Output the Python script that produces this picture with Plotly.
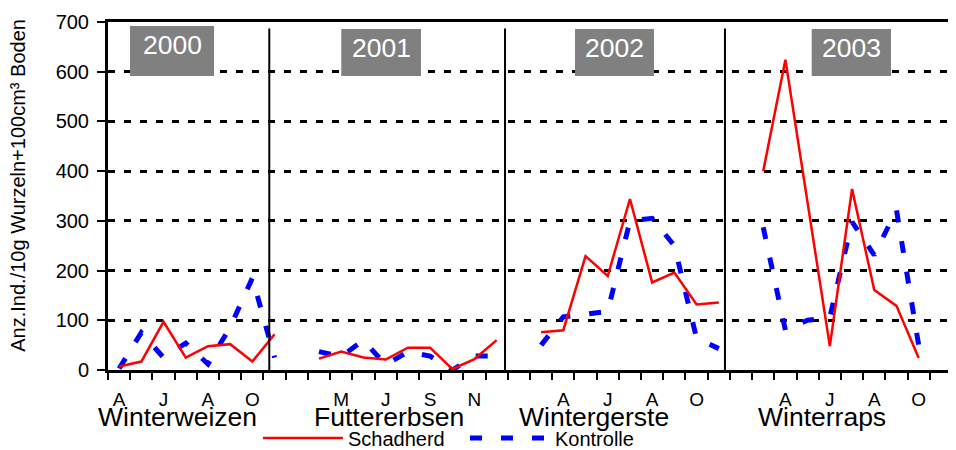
import plotly.graph_objects as go

FONT = "Liberation Sans, Arial, sans-serif"

# ---------------- data ----------------
years = ["2000", "2001", "2002", "2003"]
crops = ["Winterweizen", "Futtererbsen", "Wintergerste", "Winterraps"]
periods_per_year = [8, 10, 10, 10]

# month letter shown under each period (blank = no label)
tick_text = ["A", "", "J", "", "A", "", "O", "",
             "", "", "M", "", "J", "", "S", "", "N", "",
             "", "", "A", "", "J", "", "A", "", "O", "",
             "", "", "A", "", "J", "", "A", "", "O", ""]

schadherd = [7, 17, 97, 25, 48, 52, 17, 72,
             None, 23, 37, 25, 21, 45, 45, 2, 22, 60,
             None, 76, 80, 229, 189, 344, 176, 196, 132, 136,
             None, 400, 624, None, 48, 364, 161, 129, 24, None]

kontrolle = [3, 75, 25, 54, 12, 86, 185, 25,
             None, 37, 27, 60, 10, 37, 28, 0, 28, 28,
             None, 50, 107, 112, 118, 300, 305, 250, 64, 43,
             None, 287, 80, 100, 106, 298, 231, 322, 50, None]

y_title = "Anz.Ind./10g Wurzeln+100cm³ Boden"

# ---------------- figure ----------------
fig = go.Figure()

idx = list(range(len(tick_text)))
starts = [sum(periods_per_year[:i]) for i in range(len(years))]

series = [("Kontrolle", kontrolle, dict(color="#0000FF", width=5, dash="12px,19px"), 2),
          ("Schadherd", schadherd, dict(color="#FF0000", width=2.5), 1)]
for name, vals, line, rank in series:
    for k, yr in enumerate(years):
        s, n = starts[k], periods_per_year[k]
        fig.add_trace(go.Scatter(
            x=idx[s:s + n], y=vals[s:s + n], mode="lines", name=name,
            line=line, connectgaps=True, legendgroup=name, legendrank=rank,
            showlegend=(k == 0), hoverinfo="skip"))

# the page body has an 8px margin, so the figure is 8px smaller on each side
fig.update_layout(
    width=948, height=442,
    margin=dict(l=100, r=4, t=14, b=80, autoexpand=False),
    plot_bgcolor="white", paper_bgcolor="white",
    font=dict(family=FONT, color="black", size=19),
    showlegend=True,
    legend=dict(orientation="h", x=0.1777, xanchor="left",
                yref="container", y=0.027, yanchor="middle",
                font=dict(size=20, family=FONT), itemwidth=80,
                entrywidth=112, entrywidthmode="pixels",
                bgcolor="rgba(0,0,0,0)", tracegroupgap=0),
)

fig.update_xaxes(
    range=[-0.5, len(tick_text) - 0.5],
    tickmode="array",
    tickvals=[i for i, t in enumerate(tick_text) if t],
    ticktext=[t for t in tick_text if t],
    ticks="", tickfont=dict(size=19), ticklabelstandoff=10,
    showline=True, linewidth=3, linecolor="black", mirror=True,
    showgrid=False, zeroline=False,
    minor=dict(ticks="outside", ticklen=7, tickwidth=2, tickcolor="black",
               tick0=-0.5, dtick=1, showgrid=False),
)
fig.update_yaxes(
    range=[0, 700], dtick=100, tick0=0,
    ticks="outside", ticklen=8, tickwidth=2, tickcolor="black",
    tickfont=dict(size=20), ticklabelstandoff=4,
    showline=True, linewidth=3, linecolor="black", mirror=True,
    showgrid=True, gridcolor="black", gridwidth=2.5, griddash="7px,9px",
    zeroline=False,
)

# separators between the crop seasons
for xs in [0.1911, 0.4704, 0.7310]:
    fig.add_shape(type="line", xref="paper", yref="paper", x0=xs, x1=xs, y0=0, y1=0.981,
                  line=dict(color="black", width=2), layer="above")

# year boxes
year_boxes = [(0.0261, 0.1256, 0.9885), (0.2764, 0.3708, 0.9799),
              (0.5533, 0.6469, 0.9799), (0.8338, 0.9277, 0.9799)]
for yr, (x0, x1, y1) in zip(years, year_boxes):
    fig.add_shape(type="rect", xref="paper", yref="paper", x0=x0, x1=x1, y0=0.8448, y1=y1,
                  fillcolor="#808080", line=dict(width=0), layer="above")
    fig.add_annotation(xref="paper", yref="paper", x=(x0 + x1) / 2, y=y1 - 0.055,
                       text=yr, showarrow=False, xanchor="center", yanchor="middle",
                       font=dict(size=26.5, color="white", family=FONT))

# crop names
for crop, xc in zip(crops, [0.0818, 0.3335, 0.5762, 0.8456]):
    fig.add_annotation(xref="paper", yref="paper", x=xc, y=-0.135, text=crop,
                       showarrow=False, xanchor="center", yanchor="middle",
                       font=dict(size=26.5, family=FONT))

# y-axis title
fig.add_annotation(xref="paper", yref="paper", x=-0.1066, y=0.5296, text=y_title,
                   textangle=-90, showarrow=False, xanchor="center", yanchor="middle",
                   font=dict(size=20, family=FONT))

fig.write_html("out.html")
